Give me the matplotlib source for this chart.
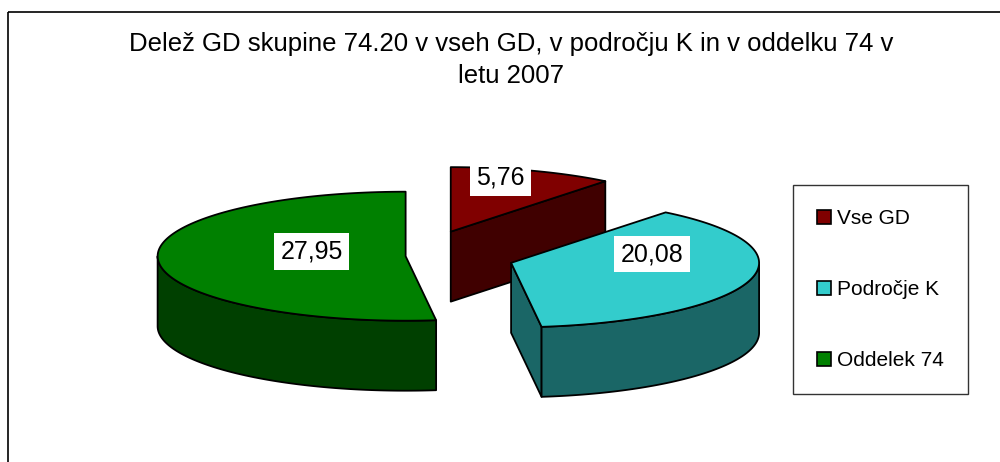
import numpy as np
import matplotlib.pyplot as plt
from matplotlib.patches import Patch, Rectangle

title = 'Delež GD skupine 74.20 v vseh GD, v področju K in v oddelku 74 v\nletu 2007'
labels = ['Vse GD', 'Področje K', 'Oddelek 74']
values = [5.76, 20.08, 27.95]
value_text = ['5,76', '20,08', '27,95']
top_colors = ['#800000', '#33CCCC', '#008000']
side_colors = ['#400000', '#1A6666', '#004000']

# layout of the 3d pie (pixels)
cx, cy = 418, 256
rx, ry = 248, 64.5
depth = 70
explode = [0.40, 0.39, 0.05]
label_r = [0.61, 0.59, 0.38]
label_lift = [17, 19, 6]

plt.rcParams['font.family'] = ['Liberation Sans', 'DejaVu Sans']

fig = plt.figure(figsize=(10, 4.62), dpi=100)
ax = fig.add_axes([0, 0, 1, 1])
ax.set_xlim(0, 1000)
ax.set_ylim(462, 0)
ax.axis('off')

# chart frame
ax.add_patch(Rectangle((8, 12), 1100, 600, fill=False, edgecolor='black', lw=1.2))

fracs = np.array(values) / sum(values)
ends = 90 - 360 * np.cumsum(fracs)
starts = np.concatenate([[90], ends[:-1]])


def arc(x0, y0, a0, a1, dz=0):
    t = np.radians(np.linspace(a0, a1, 120))
    return x0 + rx * np.cos(t), y0 - ry * np.sin(t) + dz


centers = []
for i in range(len(values)):
    mid = np.radians((starts[i] + ends[i]) / 2)
    d = explode[i] * rx
    centers.append((cx + d * np.cos(mid), cy - d * np.sin(mid) * ry / rx))

order = sorted(range(len(values)), key=lambda i: centers[i][1])
edge = dict(edgecolor='black', linewidth=1.3, joinstyle='round')

for i in order:
    sx, sy = centers[i]
    a0, a1 = ends[i], starts[i]
    # cut faces
    for a, nrm in [(a0, a0 - 90), (a1, a1 + 90)]:
        if np.sin(np.radians(nrm)) < -1e-3:
            px, py = arc(sx, sy, a, a)
            xs = [sx, px[0], px[0], sx]
            ys = [sy, py[0], py[0] + depth, sy + depth]
            ax.fill(xs, ys, facecolor=side_colors[i], **edge)
    # outer wall (front half only)
    for k in range(-2, 2):
        b0 = max(a0, 180 + 360 * k)
        b1 = min(a1, 360 + 360 * k)
        if b1 > b0:
            tx, ty = arc(sx, sy, b0, b1)
            bx, by = arc(sx, sy, b1, b0, depth)
            ax.fill(np.concatenate([tx, bx]), np.concatenate([ty, by]),
                    facecolor=side_colors[i], **edge)
    # top face
    tx, ty = arc(sx, sy, a0, a1)
    ax.fill(np.concatenate([[sx], tx]), np.concatenate([[sy], ty]),
            facecolor=top_colors[i], **edge)

for i in range(len(values)):
    sx, sy = centers[i]
    mid = np.radians((starts[i] + ends[i]) / 2)
    lx = sx + label_r[i] * rx * np.cos(mid)
    ly = sy - label_r[i] * ry * np.sin(mid) - label_lift[i]
    ax.text(lx, ly, value_text[i], fontsize=18, ha='center', va='center',
            bbox=dict(boxstyle='square,pad=0.25', facecolor='white', edgecolor='none'))

fig.text(0.5115, 1 - 60 / 462, title, fontsize=18.5, ha='center', va='center', linespacing=1.42)

handles = [Patch(facecolor=c, edgecolor='black', linewidth=1.2) for c in top_colors]
leg = fig.legend(handles, labels, loc='upper left', bbox_to_anchor=(0.793, 1 - 185 / 462),
                 fontsize=15, frameon=True, fancybox=False, edgecolor='black',
                 handlelength=0.65, handleheight=0.65, handletextpad=0.3,
                 labelspacing=2.5, borderpad=1.15, borderaxespad=0)
leg.get_frame().set_linewidth(1.0)

fig.savefig('out.png', dpi=100)
